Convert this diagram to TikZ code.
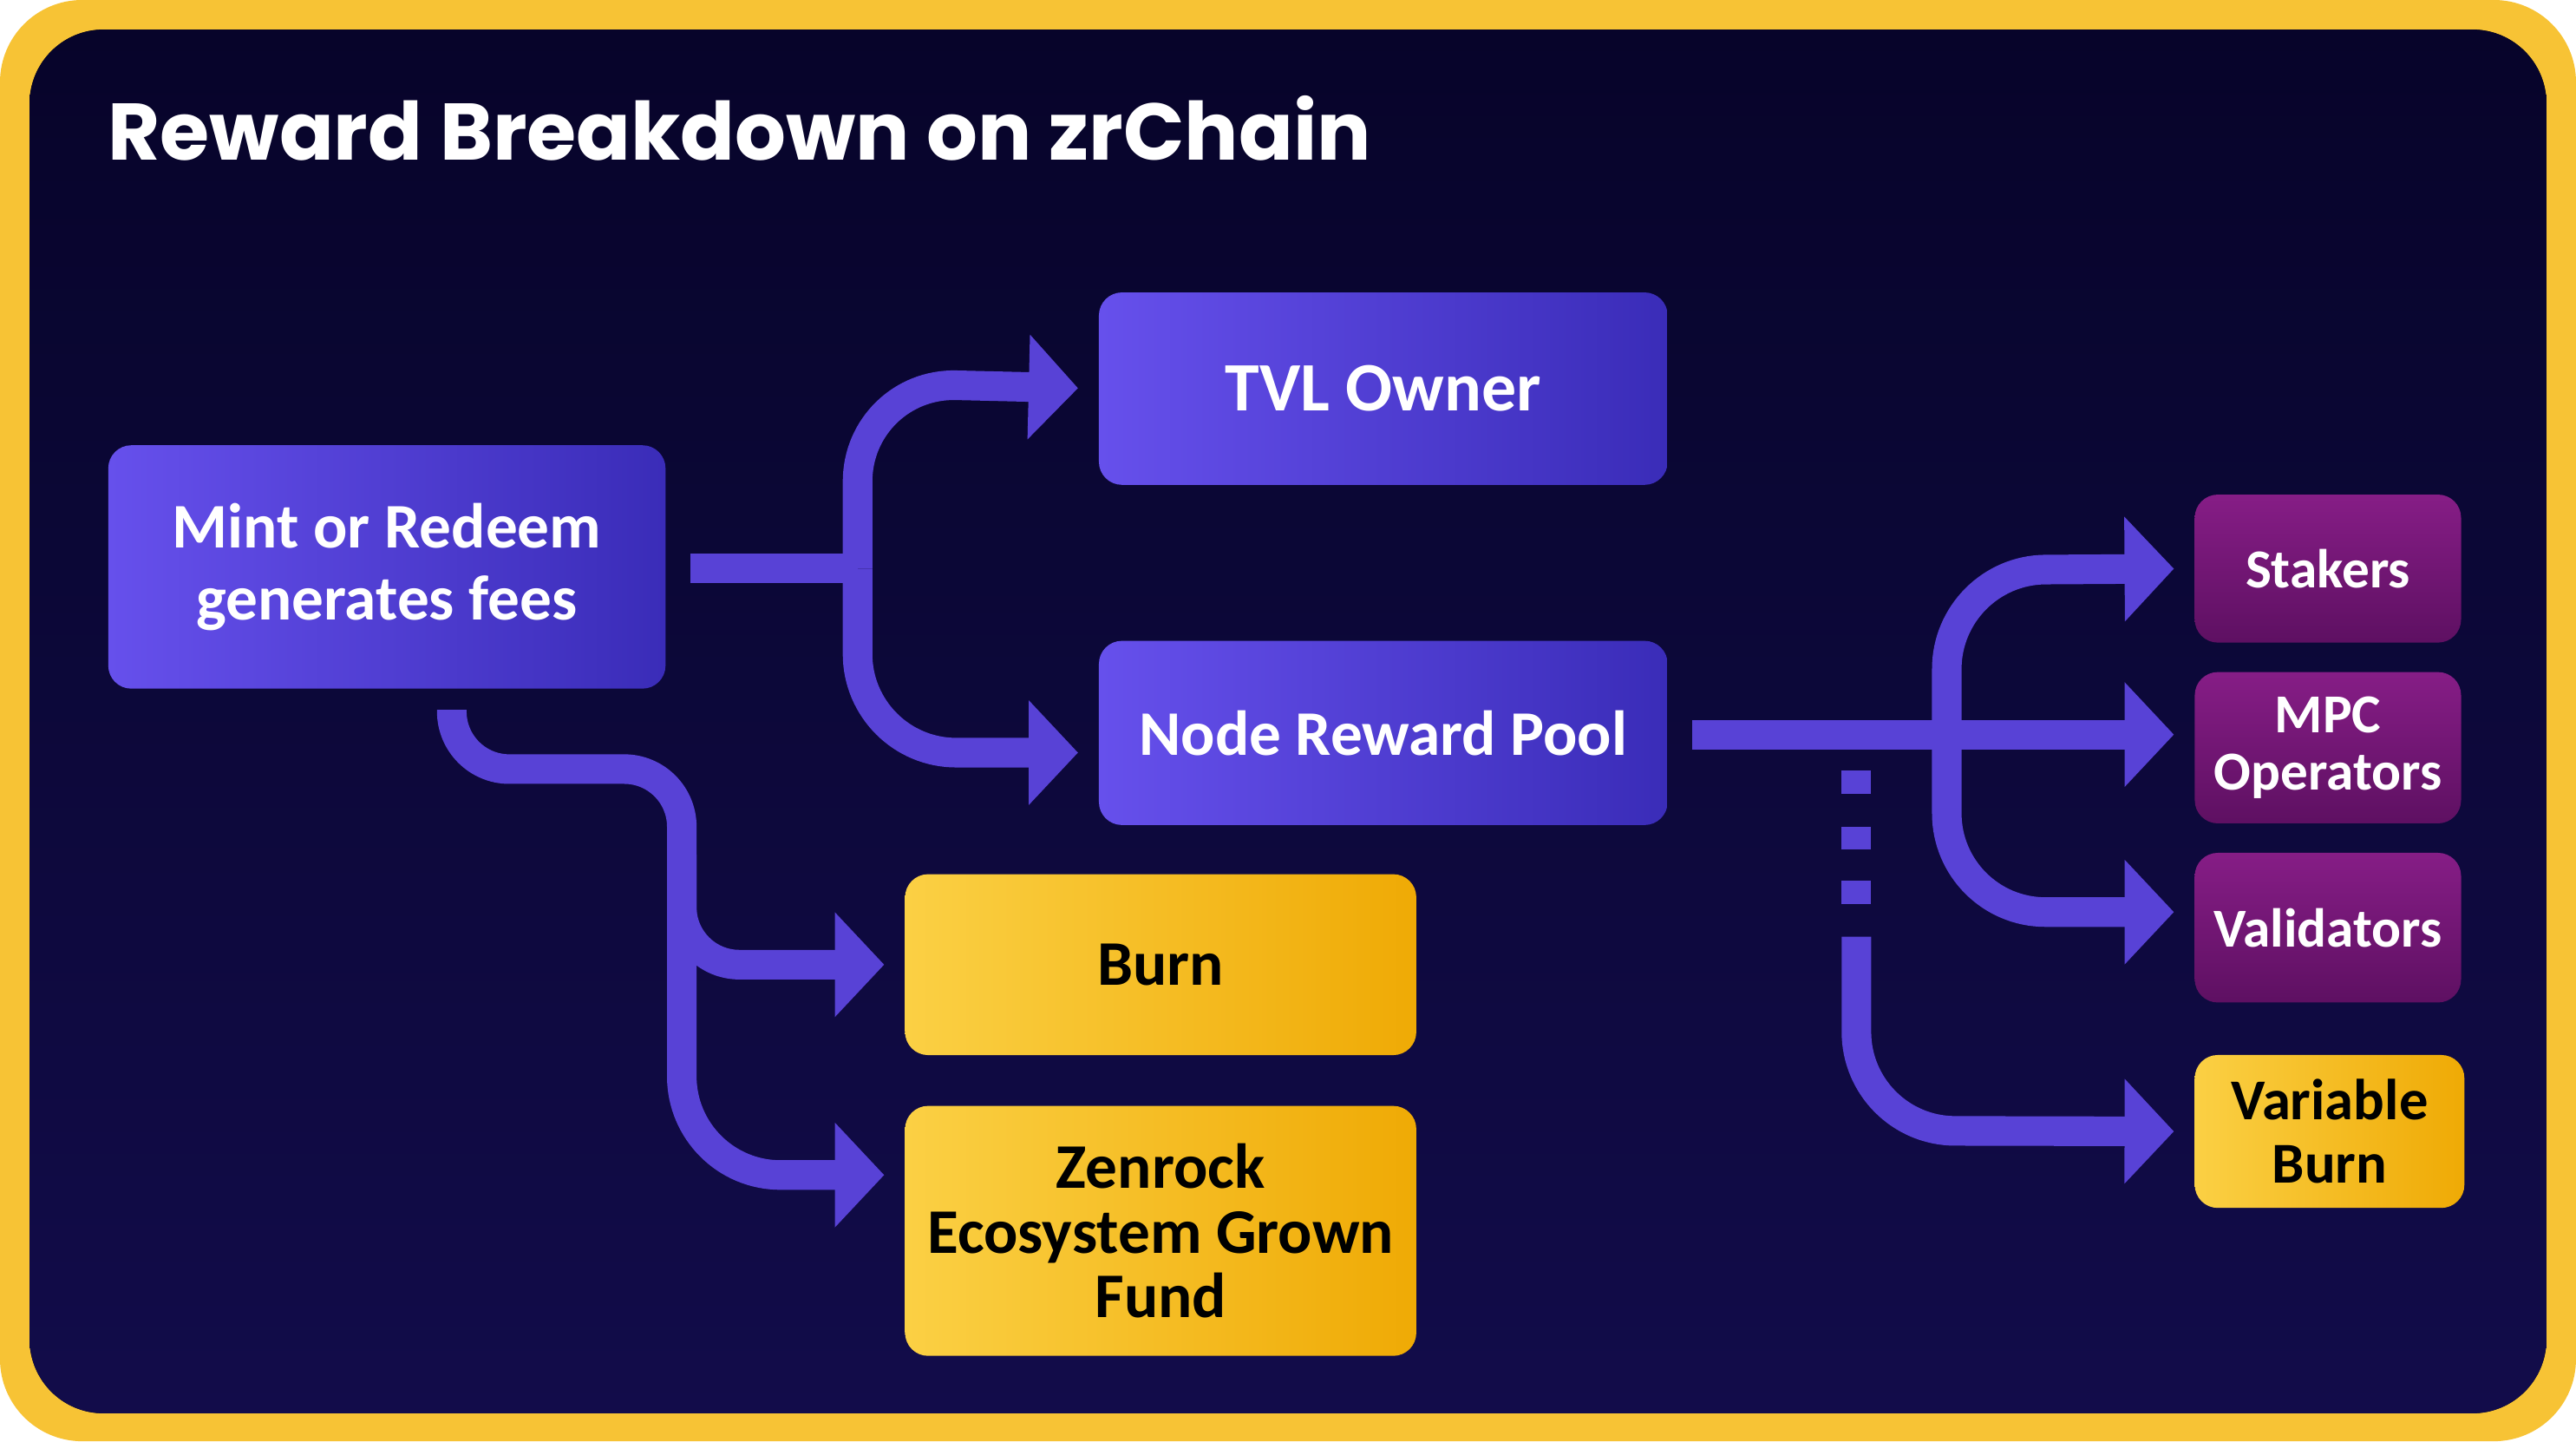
\documentclass[tikz,border=0pt]{standalone}
\usepackage{fontspec}
\setmainfont{Carlito}
\newfontfamily\titlefont{Poppins}
\usetikzlibrary{arrows.meta}
\definecolor{ybord}{HTML}{F7C335}
\definecolor{navyA}{HTML}{07042A}
\definecolor{navyB}{HTML}{120C4A}
\definecolor{purA}{HTML}{6650EC}
\definecolor{purB}{HTML}{3A2CB8}
\definecolor{flow}{HTML}{5842D6}
\definecolor{yelA}{HTML}{FBD044}
\definecolor{yelB}{HTML}{EFAA05}
\definecolor{magA}{HTML}{861D86}
\definecolor{magB}{HTML}{5E1062}
\tikzset{
 pbox/.style={rounded corners=0.14cm, left color=purA, right color=purB, draw=none, text=white, font=\bfseries\fontsize{11}{12.5}\selectfont, align=center, inner sep=0pt},
 ybox/.style={rounded corners=0.14cm, left color=yelA, right color=yelB, draw=none, text=black, font=\bfseries\fontsize{11}{11.2}\selectfont, align=center, inner sep=0pt},
 mbox/.style={rounded corners=0.14cm, top color=magA, bottom color=magB, draw=none, text=white, font=\bfseries\fontsize{9.5}{9.8}\selectfont, align=center, inner sep=0pt},
 flowline/.style={draw=flow, line width=0.18cm, rounded corners=0.6cm},
 flowarrow/.style={flowline, -{Triangle[length=0.3cm,width=0.62cm]}, shorten >=0.12cm},
}
\begin{document}
\begin{tikzpicture}[x=0.01cm,y=-0.01cm]
\useasboundingbox (0,0) rectangle (1568,877);
\fill[ybord, rounded corners=0.5cm] (0,0) rectangle (1568,877);
\fill[top color=navyA, bottom color=navyB, rounded corners=0.45cm] (18,18) rectangle (1550,860);
\node[anchor=west, inner sep=0pt, text=white, font=\titlefont\bfseries\fontsize{13.9}{16}\selectfont] (title) at (65,78) {Reward Breakdown on zrChain};

\node[pbox, minimum width=3.39cm, minimum height=1.48cm] (mint) at (235.5,345) {Mint or Redeem\\generates fees};
\node[pbox, minimum width=3.46cm, minimum height=1.17cm, font=\bfseries\fontsize{12}{14}\selectfont] (tvl) at (842,236.5) {TVL Owner};
\node[pbox, minimum width=3.46cm, minimum height=1.12cm] (pool) at (842,446) {Node Reward Pool};
\node[ybox, minimum width=3.11cm, minimum height=1.10cm] (burn) at (706.5,587) {Burn};
\node[ybox, minimum width=3.11cm, minimum height=1.52cm] (fund) at (706.5,749) {Zenrock\\Ecosystem Grown\\Fund};
\node[mbox, minimum width=1.62cm, minimum height=0.90cm] (stakers) at (1417,346) {Stakers};
\node[mbox, minimum width=1.62cm, minimum height=0.92cm] (mpc) at (1417,455) {MPC\\Operators};
\node[mbox, minimum width=1.62cm, minimum height=0.91cm] (val) at (1417,564.5) {Validators};
\node[ybox, minimum width=1.64cm, minimum height=0.93cm, font=\bfseries\fontsize{10}{11}\selectfont] (vburn) at (1418,688.5) {Variable\\Burn};

% mint -> tvl / pool
\coordinate (m1) at (420,346);
\coordinate (j1) at (522,346);
\draw[flowline] (m1) -- (j1);
\draw[flowarrow] (j1) -- (522,233) -- (tvl.west);
\draw[flowarrow] (j1) -- (522,458) -- (pool.west |- 0,458);
% mint -> burn / fund
\coordinate (m2) at (275,432);
\draw[flowarrow, rounded corners=0.35cm] (m2) -- (275,468) -- (415,468) -- (415,587) -- (burn.west);
\draw[flowarrow] (415,520) -- (415,715) -- (fund.west |- 0,715);
% pool -> right
\coordinate (p1) at (1030,447);
\draw[flowarrow, rounded corners=0] (p1) -- (mpc.west |- 0,447);
\draw[flowarrow] (1185,447) -- (1185,347) -- (stakers.west);
\draw[flowarrow] (1185,447) -- (1185,555) -- (val.west |- 0,555);
% dotted + variable burn
\foreach \yy in {476,510,543} \fill[flow] (1121,\yy-7) rectangle (1139,\yy+7);
\draw[flowarrow] (1130,570) -- (1130,688) -- (vburn.west);
\end{tikzpicture}
\end{document}
